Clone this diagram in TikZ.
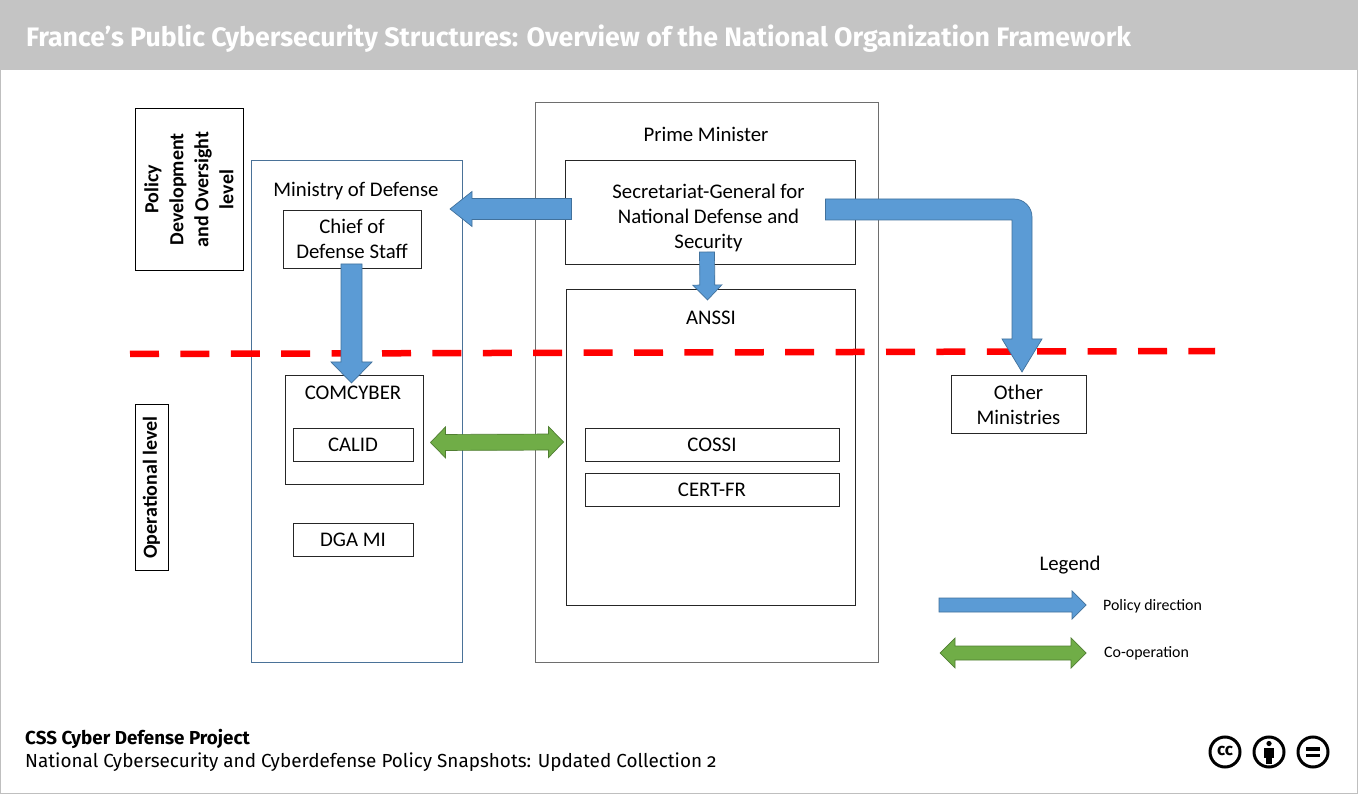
\documentclass[tikz,border=0pt]{standalone}
\usepackage{fontspec}
\setmainfont{Carlito}
\newfontfamily\titlefont[Numbers=OldStyle]{Fira Sans}
\usetikzlibrary{calc}
\definecolor{barg}{HTML}{C4C4C4}
\definecolor{pblue}{HTML}{5B9BD5}
\definecolor{pblueline}{HTML}{41719C}
\definecolor{cgreen}{HTML}{70AD47}
\definecolor{cgreenline}{HTML}{507E32}
\definecolor{redline}{HTML}{FF0000}
\definecolor{greyline}{HTML}{6E6E6E}
\definecolor{bluebox}{HTML}{4A7298}
\tikzset{
  box/.style={draw=black!85,line width=1pt,fill=white,inner sep=0pt,align=center,font=\fontsize{20.8}{25}\selectfont},
  frame/.style={draw=greyline,line width=1pt,inner sep=0pt},
  levelbox/.style={draw=black,line width=1pt,fill=white,inner sep=0pt,align=center,font=\bfseries\fontsize{20}{25}\selectfont},
  lbl/.style={inner sep=0pt,align=center,font=\fontsize{20.8}{25}\selectfont},
  legendlbl/.style={inner sep=0pt,anchor=west,font=\fontsize{15.9}{18}\selectfont},
  policy/.style={fill=pblue,draw=pblueline,line width=0.7pt,line join=miter},
  cooperation/.style={fill=cgreen,draw=cgreenline,line width=0.7pt,line join=miter},
  ccring/.style={draw=black,line width=3pt,fill=white},
}
% start, tip, half shaft, half head, head length
\newcommand{\oneway}[6]{%
  \coordinate (hb) at ($(#2)!#5!(#1)$);
  \draw[#6] ($(#1)!#3!90:(#2)$) -- ($(hb)!#3!90:(#2)$) -- ($(hb)!#4!90:(#2)$) -- (#2)
    -- ($(hb)!#4!-90:(#2)$) -- ($(hb)!#3!-90:(#2)$) -- ($(#1)!#3!-90:(#2)$) -- cycle;}
\newcommand{\twoway}[6]{%
  \coordinate (hb) at ($(#2)!#5!(#1)$);
  \coordinate (ha) at ($(#1)!#5!(#2)$);
  \draw[#6] (#1) -- ($(ha)!#4!90:(#2)$) -- ($(ha)!#3!90:(#2)$) -- ($(hb)!#3!90:(#2)$) -- ($(hb)!#4!90:(#2)$) -- (#2)
    -- ($(hb)!#4!-90:(#2)$) -- ($(hb)!#3!-90:(#2)$) -- ($(ha)!#3!-90:(#2)$) -- ($(ha)!#4!-90:(#2)$) -- cycle;}
\begin{document}
\begin{tikzpicture}[x=1pt,y=-1pt]
\useasboundingbox (0,0) rectangle (1358,794);
\fill[white] (0,0) rectangle (1358,794);
\draw[black!25,line width=1pt] (0.5,0) -- (0.5,793.5) -- (1357.5,793.5) -- (1357.5,0);
\fill[barg] (0,0) rectangle (1358,70.5);
\node[anchor=west,inner sep=0pt,text=white,font=\titlefont\bfseries\fontsize{26.7}{30}\selectfont] (title) at (26,38.5) {France’s Public Cybersecurity Structures: Overview of the National Organization Framework};

% frames
\node[frame,minimum width=343pt,minimum height=560pt] (pm) at (706.5,382.5) {};
\node[draw=bluebox,line width=1pt,inner sep=0pt,minimum width=211pt,minimum height=502pt] (mod) at (356.5,411.5) {};
\node[levelbox,minimum width=162pt,minimum height=108pt,rotate=90] (lv1) at (189,189.5) {Policy\\Development\\and Oversight\\level};
\node[levelbox,minimum width=166pt,minimum height=33pt,rotate=90] (lv2) at (151.5,487.5) {Operational level};

% boxes
\node[box,minimum width=290pt,minimum height=104pt] (sg) at (710,212.5) {};
\node[lbl] (sgt) at (708.5,217.5) {Secretariat-General for\\National Defense and\\Security};
\node[box,minimum width=289pt,minimum height=316pt] (anssi) at (710.5,447.5) {};
\node[box,minimum width=138pt,minimum height=58pt] (chief) at (352,239.5) {};
\node[lbl] (chieft) at (352,238.5) {Chief of\\Defense Staff};
\node[box,minimum width=138pt,minimum height=109pt] (comcyber) at (354,430) {};
\node[box,minimum width=120pt,minimum height=33pt] (calid) at (353,445) {CALID};
\node[box,minimum width=120pt,minimum height=33pt] (dga) at (353,540) {DGA MI};
\node[box,minimum width=254pt,minimum height=33pt] (cossi) at (712,445) {COSSI};
\node[box,minimum width=254pt,minimum height=33pt] (cert) at (712,490) {CERT-FR};
\node[box,minimum width=135pt,minimum height=58pt] (other) at (1018.5,404.5) {Other\\Ministries};

% labels inside frames
\node[lbl] (pmt) at (706,134.5) {Prime Minister};
\node[lbl] (modt) at (356,191) {Ministry of Defense};
\node[lbl] (anssit) at (711,317.5) {ANSSI};
\node[lbl] (comt) at (353,392.5) {COMCYBER};

% dashed level line
\coordinate (dashL) at (130,354);
\coordinate (dashR) at (1215,351);
\draw[redline,line width=6.5pt,dash pattern=on 29pt off 21.4pt] (dashL) -- (dashR);

% connectors
\coordinate (a1s) at ([xshift=7pt,yshift=3.5pt]sg.west);
\coordinate (a1t) at (450,209);
\oneway{a1s}{a1t}{10.5pt}{17.5pt}{22pt}{policy}
\coordinate (a2s) at ([xshift=-3pt,yshift=13pt]sg.south);
\coordinate (a2t) at ([xshift=-3pt,yshift=-11pt]anssi.north);
\oneway{a2s}{a2t}{7.5pt}{14.5pt}{15pt}{policy}
\coordinate (a3s) at ([xshift=-0.5pt,yshift=5pt]chief.south);
\coordinate (a3t) at ([xshift=-2.5pt,yshift=-8pt]comcyber.north);
\oneway{a3s}{a3t}{10.5pt}{20.5pt}{21pt}{policy}
\coordinate (a4s) at ([xshift=-30pt]sg.east);
\coordinate (a4t) at ([xshift=3.5pt,yshift=3pt]other.north);
\draw[policy] (a4s |- 0,199) -- (1014,199) arc[start angle=-90,end angle=0,radius=18]
  -- (1032,339) -- (1042,339) -- (a4t) -- (1002,339) -- (1012,339) -- (1012,220) -- (a4s |- 0,220) -- cycle;
\coordinate (g1a) at ([xshift=7pt,yshift=-12.5pt]comcyber.east);
\coordinate (g1b) at ([xshift=-21pt,yshift=3pt]cossi.west);
\twoway{g1a}{g1b}{8pt}{15.5pt}{15pt}{cooperation}

% legend
\node[lbl] (legt) at (1070,565) {Legend};
\coordinate (l1a) at (939,605);
\coordinate (l1b) at (1086,605);
\oneway{l1a}{l1b}{7pt}{14pt}{14pt}{policy}
\node[legendlbl] (l1t) at (1103,606) {Policy direction};
\coordinate (l2a) at (940,653);
\coordinate (l2b) at (1086,653);
\twoway{l2a}{l2b}{7pt}{15pt}{15pt}{cooperation}
\node[legendlbl] (l2t) at (1104,653) {Co-operation};

% footer
\node[anchor=west,inner sep=0pt,font=\titlefont\bfseries\fontsize{18.8}{20}\selectfont] (f1) at (25,739) {CSS Cyber Defense Project};
\node[anchor=west,inner sep=0pt,font=\titlefont\fontsize{18.9}{20}\selectfont] (f2) at (25,762.5) {National Cybersecurity and Cyberdefense Policy Snapshots: Updated Collection 2};

% licence icons
\draw[ccring] (1225,752) circle[radius=15];
\node[inner sep=0pt,font=\titlefont\bfseries\fontsize{17}{17}\selectfont] (cc) at (1225,750.5) {cc};
\draw[ccring] (1269,752) circle[radius=15];
\fill[black] (1269,743.5) circle[radius=2.6];
\fill[black] (1264,747.5) rectangle (1274,757.5);
\fill[black] (1266,757) rectangle (1272,763.5);
\draw[ccring] (1313,752) circle[radius=15];
\fill[black] (1306,747) rectangle (1320,750.5);
\fill[black] (1306,753.5) rectangle (1320,757);
\end{tikzpicture}
\end{document}
